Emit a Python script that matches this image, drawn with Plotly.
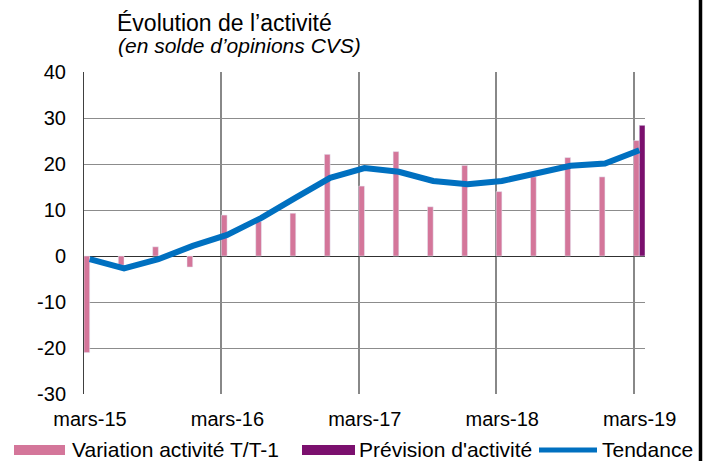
import plotly.graph_objects as go

# ---- data ----
categories = ["mars-15", "juin-15", "sept-15", "déc-15",
              "mars-16", "juin-16", "sept-16", "déc-16",
              "mars-17", "juin-17", "sept-17", "déc-17",
              "mars-18", "juin-18", "sept-18", "déc-18",
              "mars-19"]
variation = [-21.0, -2.0, 2.0, -2.4, 8.9, 7.5, 9.3, 22.1, 15.2, 22.7,
             10.7, 19.7, 14.0, 17.2, 21.4, 17.2, 25.1]
prevision = [None] * 16 + [28.4]
tendance = [-0.7, -2.7, -0.7, 2.2, 4.6, 8.3, 12.7, 17.0, 19.1, 18.3,
            16.3, 15.6, 16.3, 17.9, 19.6, 20.1, 23.0]
tick_labels = ["mars-15", "mars-16", "mars-17", "mars-18", "mars-19"]
y_ticks = [-30, -20, -10, 0, 10, 20, 30, 40]

PINK = "#D4769A"
PURPLE = "#7B106E"
BLUE = "#0070C0"
FONT = "Arial, Liberation Sans, sans-serif"

idx = list(range(len(categories)))
label_idx = [categories.index(t) for t in tick_labels]
OFF = 0.165  # grid lines sit slightly before the category centre
grid_pos = [i - OFF for i in label_idx]

fig = go.Figure()
fig.add_bar(x=idx, y=variation, name="Variation activité T/T-1",
            marker_color=PINK, showlegend=False)
fig.add_bar(x=idx, y=prevision, name="Prévision d'activité",
            marker_color=PURPLE, showlegend=False)
fig.add_scatter(x=idx, y=tendance, mode="lines", name="Tendance",
                line=dict(color=BLUE, width=6), showlegend=False)

W, H = 710, 461
L, R, T, B = 84, 65, 72, 67
pw, ph = W - L - R, H - T - B
xmax = len(categories) - 1 + 0.166


def px(x):
    return (x - L) / pw


def py(y):
    return (H - B - y) / ph


shapes = []
annotations = []

# manual legend
leg_y = 450
shapes.append(dict(type="rect", xref="paper", yref="paper",
                   x0=px(14), x1=px(65), y0=py(455), y1=py(445),
                   fillcolor=PINK, line=dict(width=0)))
shapes.append(dict(type="rect", xref="paper", yref="paper",
                   x0=px(302), x1=px(355), y0=py(455), y1=py(445),
                   fillcolor=PURPLE, line=dict(width=0)))
shapes.append(dict(type="line", xref="paper", yref="paper",
                   x0=px(539), x1=px(597), y0=py(leg_y), y1=py(leg_y),
                   line=dict(color=BLUE, width=5)))
for txt, x in [("Variation activité T/T-1", 70),
               ("Prévision d'activité", 357),
               ("Tendance", 600)]:
    annotations.append(dict(text=txt, xref="paper", yref="paper",
                            x=px(x), y=py(leg_y), xanchor="left",
                            yanchor="middle", showarrow=False,
                            font=dict(family=FONT, size=21, color="black")))

# right frame line
shapes.append(dict(type="line", xref="paper", yref="paper",
                   x0=px(700.5), x1=px(700.5), y0=py(H + 2), y1=py(-2),
                   line=dict(color="black", width=3.5)))

# titles
annotations.append(dict(text="Évolution de l’activité", xref="paper",
                        yref="paper", x=px(115), y=py(23), xanchor="left",
                        yanchor="middle", showarrow=False,
                        font=dict(family=FONT, size=23, color="black")))
annotations.append(dict(text="<i>(en solde d’opinions CVS)</i>",
                        xref="paper", yref="paper", x=px(116), y=py(45),
                        xanchor="left", yanchor="middle", showarrow=False,
                        font=dict(family=FONT, size=21, color="black")))

fig.update_layout(
    width=W, height=H,
    margin=dict(l=L, r=R, t=T, b=B, pad=0),
    paper_bgcolor="white", plot_bgcolor="white",
    barmode="group", bargap=0.667, bargroupgap=0,
    font=dict(family=FONT, size=20, color="black"),
    shapes=shapes, annotations=annotations,
    xaxis=dict(range=[-OFF, xmax],
               tickmode="array", tickvals=grid_pos, ticktext=tick_labels,
               ticklabelshift=round(OFF * pw / (xmax + OFF)),
               showgrid=True, gridcolor="#888888", gridwidth=2,
               zeroline=False, showline=False,
               ticks="outside", ticklen=7, tickcolor="rgba(0,0,0,0)",
               tickfont=dict(size=20)),
    yaxis=dict(range=[-30, 40], tickmode="array", tickvals=y_ticks,
               ticktext=[str(v) for v in y_ticks],
               showgrid=True, gridcolor="#8c8c8c", gridwidth=1,
               zeroline=True, zerolinecolor="#303030", zerolinewidth=1.3,
               showline=True, linecolor="#404040", linewidth=1,
               ticks="outside", ticklen=13, tickcolor="rgba(0,0,0,0)",
               tickfont=dict(size=20)),
)

fig.write_html("out.html",
               config={"displayModeBar": False},
               post_script="document.body.style.margin='0';"
                           "document.body.style.overflow='hidden';")
